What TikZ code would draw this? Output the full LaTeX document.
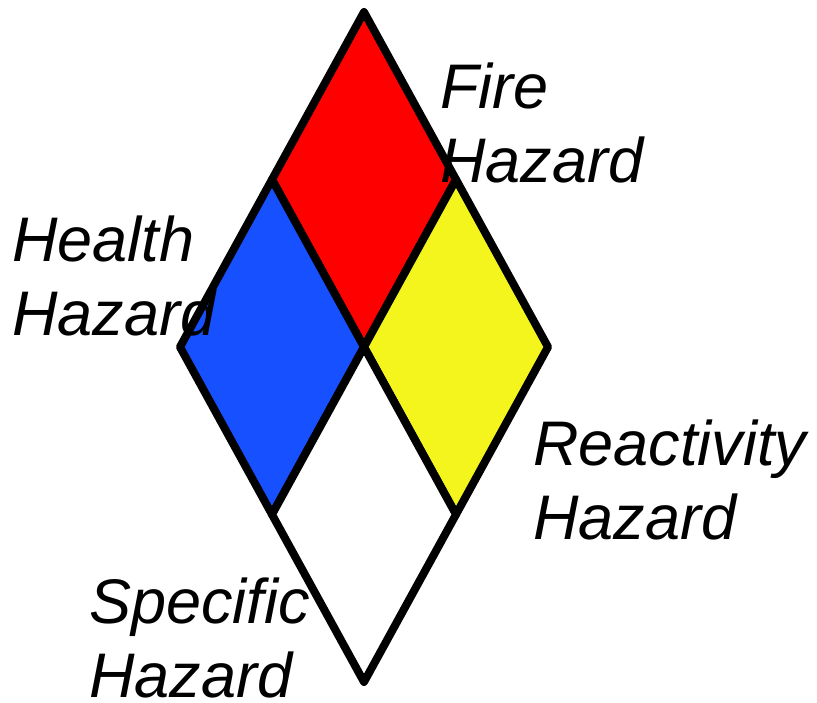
\documentclass[tikz,border=0pt]{standalone}
\usepackage{fontspec}
\setmainfont{Liberation Sans}
\usetikzlibrary{calc}
\definecolor{firered}{RGB}{255,0,0}
\definecolor{healthblue}{RGB}{22,80,255}
\definecolor{reactyellow}{RGB}{245,245,30}

\begin{document}
\begin{tikzpicture}[x=1pt,y=-1pt,
        panel/.style={draw=black,line width=8pt,line join=round},
        hazardtext/.style={anchor=base west,inner sep=0pt,align=left,
                font=\itshape\fontsize{63}{74}\selectfont}]
        \useasboundingbox (0,0) rectangle (817,703);

        % Corners of the big diamond
        \coordinate (top) at (364,12);
        \coordinate (left) at (180,347);
        \coordinate (right) at (548,347);
        \coordinate (bottom) at (364,682);
        \coordinate (c) at (364,347);

        % Midpoints of the sides
        \coordinate (tl) at ($(top)!0.5!(left)$);
        \coordinate (tr) at ($(top)!0.5!(right)$);
        \coordinate (bl) at ($(bottom)!0.5!(left)$);
        \coordinate (br) at ($(bottom)!0.5!(right)$);

        % Draw the four cells
        \filldraw[panel,fill=firered] (top) -- (tr) -- (c) -- (tl) -- cycle;
        \filldraw[panel,fill=healthblue] (tl) -- (c) -- (bl) -- (left) -- cycle;
        \filldraw[panel,fill=reactyellow] (tr) -- (right) -- (br) -- (c) -- cycle;
        \filldraw[panel,fill=white] (c) -- (br) -- (bottom) -- (bl) -- cycle;

        % Add labels (base = baseline of the last line)
        \node[hazardtext] (fire) at (440,183) {Fire\\Hazard};
        \node[hazardtext] (health) at (12,336) {Health\\Hazard};
        \node[hazardtext] (reactivity) at (533,539) {Reactivity\\Hazard};
        \node[hazardtext] (specific) at (89,697) {Specific\\Hazard};
    \end{tikzpicture}
\end{document}
